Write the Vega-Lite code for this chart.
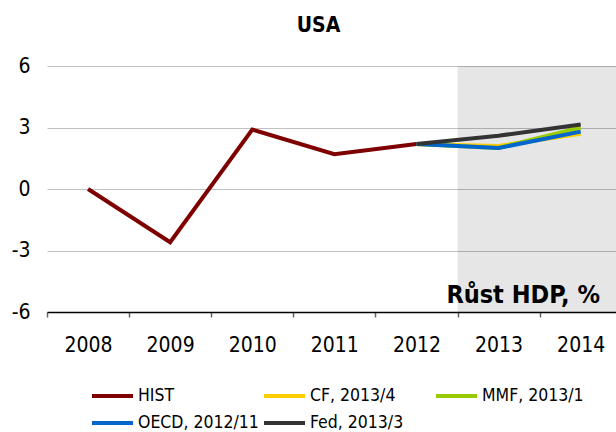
{
  "$schema": "https://vega.github.io/schema/vega-lite/v6.json",
  "width": 569,
  "height": 246,
  "autosize": {"type": "none"},
  "padding": {"left": 47, "top": 66, "right": 0, "bottom": 120},
  "background": "white",
  "config": {"font": "DejaVu Sans Condensed", "view": {"stroke": null}},
  "title": {"text": "USA", "fontSize": 21, "fontWeight": "bold", "color": "#000000", "dx": -13, "offset": 19},
  "layer": [
    {
      "data": {"values": [{"start": 2012.5, "end": 2014.43, "top": 6, "bottom": -6}]},
      "mark": {"type": "rect", "fill": "#000000", "opacity": 0.098},
      "encoding": {
        "x": {"field": "start", "type": "quantitative", "scale": {"domain": [2007.5, 2014.43], "nice": false, "zero": false}},
        "x2": {"field": "end"},
        "y": {"field": "top", "type": "quantitative", "scale": {"domain": [-6, 6], "nice": false}},
        "y2": {"field": "bottom"}
      }
    },
    {
      "data": {"values": [
        {"year": 2008, "value": 0.0, "series": "HIST"},
        {"year": 2009, "value": -2.6, "series": "HIST"},
        {"year": 2010, "value": 2.9, "series": "HIST"},
        {"year": 2011, "value": 1.7, "series": "HIST"},
        {"year": 2012, "value": 2.2, "series": "HIST"},
        {"year": 2012, "value": 2.2, "series": "CF, 2013/4"},
        {"year": 2013, "value": 2.1, "series": "CF, 2013/4"},
        {"year": 2014, "value": 2.7, "series": "CF, 2013/4"},
        {"year": 2012, "value": 2.2, "series": "MMF, 2013/1"},
        {"year": 2013, "value": 2.0, "series": "MMF, 2013/1"},
        {"year": 2014, "value": 3.0, "series": "MMF, 2013/1"},
        {"year": 2012, "value": 2.2, "series": "OECD, 2012/11"},
        {"year": 2013, "value": 2.0, "series": "OECD, 2012/11"},
        {"year": 2014, "value": 2.8, "series": "OECD, 2012/11"},
        {"year": 2012, "value": 2.2, "series": "Fed, 2013/3"},
        {"year": 2013, "value": 2.6, "series": "Fed, 2013/3"},
        {"year": 2014, "value": 3.15, "series": "Fed, 2013/3"}
      ]},
      "mark": {"type": "line", "strokeWidth": 4},
      "encoding": {
        "x": {
          "field": "year", "type": "quantitative",
          "scale": {"domain": [2007.5, 2014.43], "nice": false, "zero": false},
          "axis": {
            "title": null, "grid": false,
            "values": [2007.5, 2008.5, 2009.5, 2010.5, 2011.5, 2012.5, 2013.5],
            "labelExpr": "format(datum.value + 0.5, 'd')",
            "labelOffset": 41, "labelFontSize": 21, "labelColor": "#000000",
            "labelPadding": 17, "tickSize": 5, "tickColor": "#666666", "tickWidth": 1.5,
            "domainColor": "#000000", "domainWidth": 1.5, "labelFlush": false, "labelOverlap": false
          }
        },
        "y": {
          "field": "value", "type": "quantitative",
          "scale": {"domain": [-6, 6], "nice": false},
          "axis": {
            "title": null, "values": [-6, -3, 0, 3, 6], "grid": true, "gridColor": "#c0c0c0",
            "domain": false, "ticks": false, "tickSize": 0, "labelPadding": 17,
            "labelExpr": "datum.value < 0 ? '-' + abs(datum.value) : '' + datum.value",
            "labelFontSize": 21, "labelColor": "#000000"
          }
        },
        "color": {
          "field": "series", "type": "nominal",
          "scale": {
            "domain": ["HIST", "CF, 2013/4", "MMF, 2013/1", "OECD, 2012/11", "Fed, 2013/3"],
            "range": ["#7f0000", "#ffcc00", "#99cc00", "#0066cc", "#333333"]
          },
          "legend": {
            "title": null, "orient": "none", "legendX": 43, "legendY": 319, "direction": "horizontal",
            "columns": 3, "gridAlign": "all", "columnPadding": 3, "rowPadding": 5,
            "clipHeight": 22,
            "symbolType": "stroke", "symbolStrokeWidth": 4, "symbolSize": 1681,
            "labelFontSize": 17.5, "labelColor": "#000000", "labelOffset": 3, "padding": 0,
            "labelLimit": 300
          }
        }
      }
    },
    {
      "data": {"values": [{"label": "Růst HDP, %", "x": 2014.235, "y": -5.55}]},
      "mark": {"type": "text", "align": "right", "baseline": "alphabetic", "fontSize": 25, "fontWeight": "bold", "color": "#000000"},
      "encoding": {
        "x": {"field": "x", "type": "quantitative"},
        "y": {"field": "y", "type": "quantitative"},
        "text": {"field": "label"}
      }
    }
  ]
}
